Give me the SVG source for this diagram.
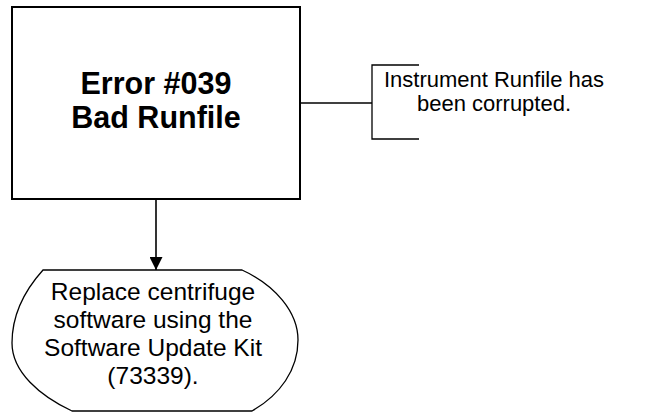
<svg xmlns="http://www.w3.org/2000/svg" width="646" height="417" viewBox="0 0 646 417">
<defs>
<style>
.bg{fill:#ffffff}
.box{fill:#ffffff;stroke:#000000;stroke-width:2}
.thin{fill:none;stroke:#000000;stroke-width:1.3}
.wire{fill:none;stroke:#000000;stroke-width:1.6}
.title{font-family:"Liberation Sans",Arial,sans-serif;font-weight:bold;font-size:30.5px;fill:#000000;text-anchor:middle}
.txt{font-family:"Liberation Sans",Arial,sans-serif;font-size:22px;fill:#000000;text-anchor:middle}
.big{font-size:24.5px}
</style>
<marker id="arrow" markerWidth="13" markerHeight="13" refX="13" refY="6.5" orient="auto" markerUnits="userSpaceOnUse">
<path d="M0,0 L13,6.5 L0,13 Z" fill="#000000"/>
</marker>
</defs>
<rect class="bg" x="0" y="0" width="646" height="417"/>
<g id="connectors">
<line class="wire" x1="300" y1="103" x2="372" y2="103"/>
<line class="wire" x1="156" y1="200" x2="156" y2="270" marker-end="url(#arrow)"/>
</g>
<g id="error-node">
<rect class="box" x="12" y="7" width="288" height="192"/>
<text class="title" x="156" y="94">Error #039</text>
<text class="title" x="156" y="128">Bad Runfile</text>
</g>
<g id="cause-node">
<path class="thin" d="M419,65 L372,65 L372,139 L419,139"/>
<text class="txt" x="494" y="87">Instrument Runfile has</text>
<text class="txt" x="494" y="111">been corrupted.</text>
</g>
<g id="action-node">
<path class="thin" d="M43,270 L242,270 C275,285 298,312 298,340 C298,370 280,395 252,411 L72,411 C40,396 12,372 12,343 C12,315 25,290 43,270 Z" fill="#ffffff"/>
<text class="txt big" x="153" y="300">Replace centrifuge</text>
<text class="txt big" x="153" y="328">software using the</text>
<text class="txt big" x="153" y="356">Software Update Kit</text>
<text class="txt big" x="153" y="384">(73339).</text>
</g>
</svg>
